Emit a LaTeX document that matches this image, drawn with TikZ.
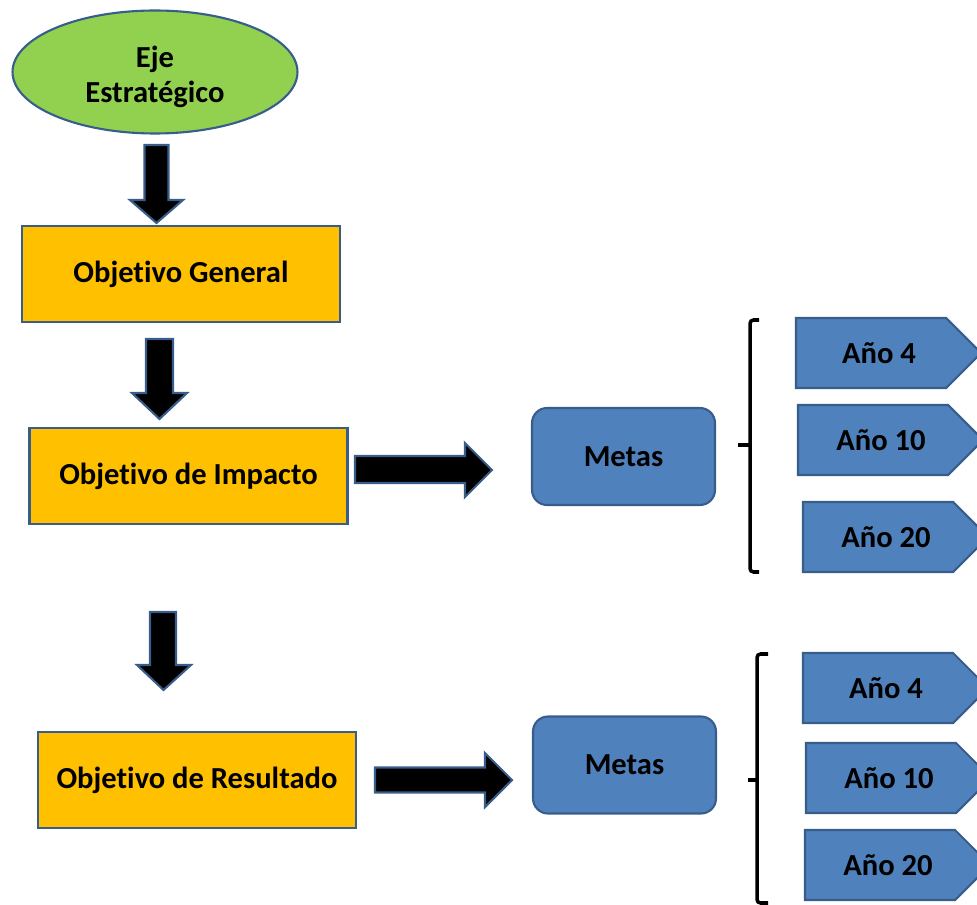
\documentclass[tikz,border=0pt]{standalone}
\usepackage{fontspec}
\setmainfont{Carlito}[Ligatures=NoCommon]
\usetikzlibrary{shapes.geometric,calc,backgrounds}
\definecolor{ejegreen}{HTML}{92D050}
\definecolor{objorange}{HTML}{FFC000}
\definecolor{metablue}{HTML}{4F81BD}
\definecolor{edgeblue}{HTML}{385D8A}
\tikzset{
  lbl/.style={font=\fontsize{17.4}{20}\selectfont\bfseries, text=black},
  objbox/.style={lbl, rectangle, draw=edgeblue, fill=objorange, line width=1.2pt,
    minimum width=6.36cm, minimum height=1.92cm},
  metabox/.style={lbl, rectangle, rounded corners=0.3cm, draw=edgeblue, fill=metablue,
    line width=1.2pt, minimum width=3.66cm, minimum height=1.94cm},
  yearshape/.style={draw=edgeblue, fill=metablue, line width=1.2pt},
  blockarr/.style={draw=edgeblue, fill=black, line width=1.2pt},
  bracket/.style={line width=2pt, rounded corners=2pt}
}
\begin{document}
\begin{tikzpicture}[x=0.02cm, y=-0.02cm]
  \useasboundingbox (0,0) rectangle (977,905);
  % left column
  \node(eje) [lbl, ellipse, draw=edgeblue, fill=ejegreen, line width=1.2pt, align=center,
    minimum width=5.7cm, minimum height=2.46cm] at (155,72) {\rule{0pt}{18pt}Eje\\Estratégico};
  \node(gen) [objbox] at (181,274) {Objetivo General};
  \node(imp) [objbox] at (188.5,476) {Objetivo de Impacto};
  \node(res) [objbox] at (197,780) {Objetivo de Resultado};
  % metas
  \node(m1) [metabox] at (623.5,456.5) {Metas};
  \node(m2) [metabox] at (624.5,765) {Metas};
  % years
  \node(u4) [lbl] at (879,353) {Año 4};
  \node(u10) [lbl] at (881,440) {Año 10};
  \node(u20) [lbl] at (886,537) {Año 20};
  \node(l4) [lbl] at (886,688) {Año 4};
  \node(l10) [lbl] at (889,778) {Año 10};
  \node(l20) [lbl] at (888,865) {Año 20};
  \begin{scope}[on background layer]
    \clip (0,0) rectangle (977,905);
    \foreach \n in {u4,u10,u20,l4,l10,l20}
      \draw[yearshape] ($(\n)+(-83,-35)$) -- ($(\n)+(67,-35)$) -- ($(\n)+(102,0)$)
        -- ($(\n)+(67,35)$) -- ($(\n)+(-83,35)$) -- cycle;
  \end{scope}
  % block arrows
  \draw[blockarr] (144.5,145) -- (168.5,145) -- (168.5,200) -- (183,200) -- (156.5,223)
    -- (130,200) -- (144.5,200) -- cycle;
  \draw[blockarr] (146,339) -- (173,339) -- (173,393) -- (187,393) -- (159.5,419)
    -- (132,393) -- (146,393) -- cycle;
  \draw[blockarr] (150,612) -- (176,612) -- (176,665) -- (191,665) -- (163.5,690)
    -- (137,665) -- (150,665) -- cycle;
  \draw[blockarr] (355,456) -- (465,456) -- (465,443) -- (492,470) -- (465,497)
    -- (465,483) -- (355,483) -- cycle;
  \draw[blockarr] (375,767.5) -- (485,767.5) -- (485,753) -- (512,780) -- (485,807)
    -- (485,792.5) -- (375,792.5) -- cycle;
  % brackets
  \draw[bracket] (759,320) -- (750,320) -- (750,572) -- (759,572);
  \draw[bracket] (750,445) -- (738,445);
  \draw[bracket] (768,654) -- (757,654) -- (757,903) -- (768,903);
  \draw[bracket] (757,780) -- (748,780);
\end{tikzpicture}
\end{document}
